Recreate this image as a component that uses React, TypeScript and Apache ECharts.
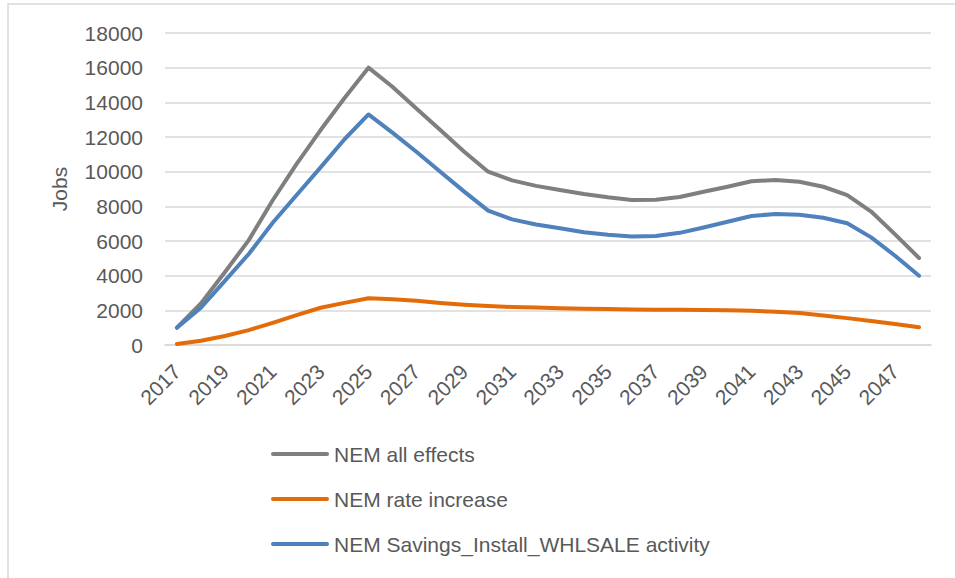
import React, { useEffect, useRef } from "react";
import * as echarts from "echarts";

const years: string[] = [];
for (let y = 2017; y <= 2048; y++) years.push(String(y));

const allEffects = [
  1000, 2400, 4200, 6050, 8350, 10450, 12400, 14250, 16000, 14900, 13650, 12400,
  11150, 10000, 9500, 9180, 8940, 8710, 8520, 8370, 8380, 8540, 8840, 9130,
  9450, 9520, 9420, 9130, 8650, 7700, 6380, 5020,
];
const rateIncrease = [
  60, 250, 520, 860, 1280, 1720, 2150, 2430, 2700, 2640, 2550, 2420,
  2320, 2250, 2190, 2160, 2120, 2090, 2070, 2050, 2040, 2030, 2020, 2010,
  1980, 1920, 1840, 1700, 1550, 1390, 1210, 1020,
];
const savingsInstall = [
  1000, 2150, 3700, 5250, 7050, 8650, 10250, 11870, 13300, 12250, 11150, 10000,
  8850, 7750, 7250, 6950, 6730, 6510, 6360, 6260, 6290, 6470, 6780, 7110,
  7440, 7560, 7520, 7340, 7020, 6210, 5150, 4000,
];

const seriesNames = [
  "NEM all effects",
  "NEM rate increase",
  "NEM Savings_Install_WHLSALE activity",
];
const colors = ["#7F7F7F", "#E36C09", "#4F81BD"];

const FONT = "Liberation Sans";
const FS = 21;

export default function App() {
  const ref = useRef<HTMLDivElement>(null);
  useEffect(() => {
    if (!ref.current) return;
    const chart = echarts.init(ref.current, undefined, { renderer: "svg" });
    const data = [allEffects, rateIncrease, savingsInstall];
    chart.setOption({
      animation: false,
      backgroundColor: "#ffffff",
      textStyle: { fontFamily: FONT },
      graphic: [
        {
          type: "rect",
          shape: { x: 8, y: 4, width: 1000, height: 700 },
          style: { fill: "none", stroke: "#D9D9D9", lineWidth: 1.5 },
          silent: true,
        },
      ],
      grid: { left: 165, right: 24, top: 33, bottom: 233 },
      legend: {
        orient: "vertical",
        left: 266,
        top: 437,
        itemWidth: 58,
        itemHeight: 5,
        itemGap: 21,
        icon: "path://M2,0 L56,0 A2,2 0 0 1 56,4 L2,4 A2,2 0 0 1 2,0 Z",
        textStyle: {
          fontFamily: FONT,
          fontSize: FS,
          color: "#595959",
          lineHeight: 24,
        },
        data: seriesNames,
      },
      xAxis: {
        type: "category",
        data: years,
        boundaryGap: true,
        axisLine: { lineStyle: { color: "#D9D9D9", width: 1.5 } },
        axisTick: { show: false },
        axisLabel: {
          interval: 1,
          rotate: 45,
          margin: 23,
          fontFamily: FONT,
          fontSize: FS,
          color: "#595959",
        },
      },
      yAxis: {
        type: "value",
        min: 0,
        max: 18000,
        interval: 2000,
        name: "Jobs",
        nameLocation: "middle",
        nameRotate: 90,
        nameGap: 95,
        nameTextStyle: { fontFamily: FONT, fontSize: FS, color: "#595959" },
        axisLine: { show: false },
        axisTick: { show: false },
        axisLabel: {
          margin: 22,
          fontFamily: FONT,
          fontSize: FS,
          color: "#595959",
          formatter: (v: number) => String(v),
        },
        splitLine: { lineStyle: { color: "#D9D9D9", width: 1.5 } },
      },
      series: seriesNames.map((name, i) => ({
        name,
        type: "line",
        data: data[i],
        symbol: "none",
        smooth: false,
        color: colors[i],
        lineStyle: { width: 4, color: colors[i], cap: "round", join: "round" },
      })),
    });
    return () => chart.dispose();
  }, []);
  return (
    <div
      ref={ref}
      style={{ position: "absolute", left: 0, top: 0, width: 955, height: 578 }}
    />
  );
}
